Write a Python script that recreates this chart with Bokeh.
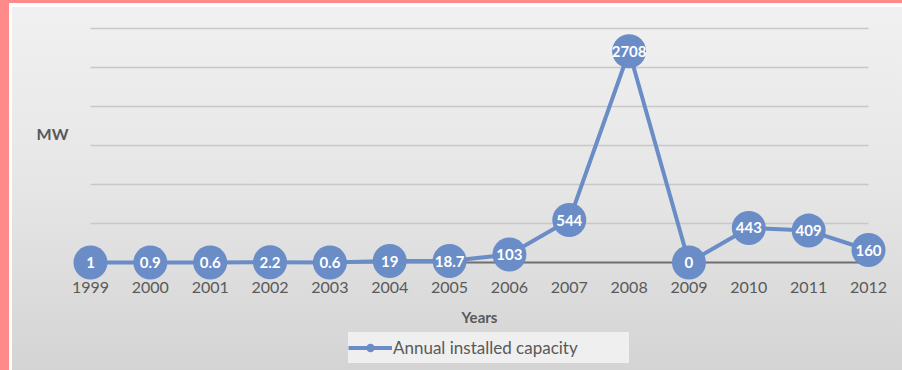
from bokeh.plotting import figure
from bokeh.models import Range1d, Legend, LegendItem, ColumnDataSource, FixedTicker
from bokeh.embed import file_html
from bokeh.resources import INLINE
from bokeh.core.properties import value

years = [1999, 2000, 2001, 2002, 2003, 2004, 2005, 2006, 2007, 2008, 2009, 2010, 2011, 2012]
capacity = [1, 0.9, 0.6, 2.2, 0.6, 19, 18.7, 103, 544, 2708, 0, 443, 409, 160]
value_labels = ["1", "0.9", "0.6", "2.2", "0.6", "19", "18.7", "103", "544", "2708", "0", "443", "409", "160"]
grid_values = [500, 1000, 1500, 2000, 2500, 3000]
series_name = "Annual installed capacity"
x_title = "Years"
y_title = "MW"

BLUE = "#6a8cc7"
TEXT = "#595959"
FONT = "Lato"
Y_TITLE_AT = 1650  # vertical placement of the unit label

src = ColumnDataSource(dict(x=years, y=capacity, lab=value_labels))

p = figure(width=902, height=370,
           x_range=Range1d(1998.666, 2012.334), y_range=Range1d(-1384.6, 3102.6),
           output_backend="svg", toolbar_location=None,
           min_border_left=70, min_border_right=14, min_border_top=20, min_border_bottom=0,
           background_fill_color=None, border_fill_color=None, outline_line_color=None)
p.styles = {"background": (
    "linear-gradient(#ff8a8a, #ff8a8a) 0 0 / 9px 100% no-repeat, "
    "linear-gradient(#ff8a8a, #ff8a8a) 0 0 / 100% 3px no-repeat, "
    "linear-gradient(#ffffff, #ffffff) 0 0 / 12px 100% no-repeat, "
    "linear-gradient(#ffffff, #ffffff) 0 0 / 100% 7px no-repeat, "
    "linear-gradient(180deg, #f1f1f1 0%, #e6e6e6 50%, #d4d4d4 100%)")}

p.xgrid.visible = False
p.ygrid.visible = False

# gridlines and baseline
gsrc = ColumnDataSource(dict(x0=[years[0]] * len(grid_values), x1=[years[-1]] * len(grid_values),
                             y=grid_values))
p.segment(x0="x0", x1="x1", y0="y", y1="y", source=gsrc, line_color="#c8c8c8", line_width=1.5)
p.segment(x0=[years[0]], x1=[years[-1]], y0=[0], y1=[0], line_color="#6f6f6f", line_width=1.8)

# x axis, pinned at zero
xa = p.xaxis[0]
xa.fixed_location = 0
xa.ticker = FixedTicker(ticks=years)
xa.axis_line_color = None
xa.major_tick_line_color = None
xa.minor_tick_line_color = None
xa.major_tick_out = 0
xa.major_tick_in = 0
xa.major_label_standoff = 19
xa.major_label_text_font = FONT
xa.major_label_text_font_size = "16px"
xa.major_label_text_color = TEXT
xa.axis_label = x_title
xa.axis_label_text_font = FONT
xa.axis_label_text_font_style = "bold"
xa.axis_label_text_font_size = "15px"
xa.axis_label_text_color = TEXT
xa.axis_label_standoff = 12

# y axis: only the unit label
ya = p.yaxis[0]
ya.ticker = FixedTicker(ticks=[Y_TITLE_AT])
ya.major_label_overrides = {Y_TITLE_AT: y_title}
ya.axis_line_color = None
ya.major_tick_line_color = None
ya.minor_tick_line_color = None
ya.major_tick_out = 0
ya.major_tick_in = 0
ya.major_label_standoff = 2
ya.major_label_text_font = FONT
ya.major_label_text_font_style = "bold"
ya.major_label_text_font_size = "16px"
ya.major_label_text_color = TEXT

line_r = p.line("x", "y", source=src, line_color=BLUE, line_width=4)
pts_r = p.scatter("x", "y", source=src, size=34, fill_color=BLUE, line_color=None)
p.text("x", "y", text="lab", source=src, text_color="white", text_font=value(FONT),
       text_font_style="bold", text_font_size="15px", text_align="center", text_baseline="middle")

legend = Legend(items=[LegendItem(label=series_name, renderers=[line_r, pts_r])],
                location=(278, 7), orientation="horizontal",
                background_fill_color="#efefef", background_fill_alpha=1.0,
                border_line_color=None, label_text_color=TEXT, label_text_font=FONT,
                label_text_font_size="17px", glyph_width=44, glyph_height=21,
                label_height=31, padding=5, margin=0, label_standoff=1, label_width=236)
p.add_layout(legend, "center")

open("out.html", "w").write(file_html(p, INLINE))
